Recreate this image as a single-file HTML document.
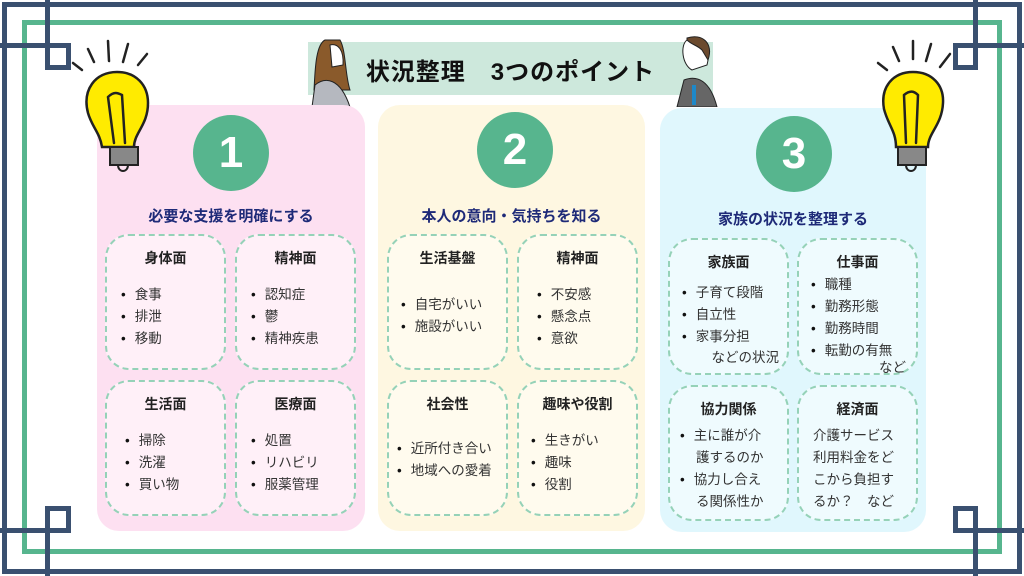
<!DOCTYPE html>
<html><head><meta charset="utf-8"><style>
*{margin:0;padding:0;box-sizing:border-box}
body{width:1024px;height:576px;background:#fff;position:relative;overflow:hidden;font-family:"Liberation Sans","Noto Sans CJK JP",sans-serif;color:#222}
.a{position:absolute}
.panel{position:absolute;top:105px;height:426px;border-radius:22px}
.circ{position:absolute;width:76px;height:76px;border-radius:50%;background:#57b58e;color:#fff;font-size:44px;font-weight:bold;text-align:center;line-height:76px}
.ttl{position:absolute;font-size:15px;font-weight:bold;color:#1e2a78;text-align:center;white-space:nowrap}
.box{position:absolute;border:2.5px dashed #95d2b8;border-radius:24px;font-size:13.5px;color:#333}
.box h4{text-align:center;font-size:14px;font-weight:bold;color:#222;margin-top:12px}
.box ul{list-style:none;margin-left:14px}
.box li{line-height:22px;white-space:nowrap}
.box li:before{content:"•";margin-right:9px;color:#111}
.box li.c:before{content:none}
.nb li:before{content:none}
</style></head><body>
<div class="a" style="left:2px;top:2px;width:1020px;height:572px;border:5px solid #3a5070"></div>
<div class="a" style="left:22px;top:20px;width:980px;height:534px;border:5px solid #57b58e"></div>
<div class="a" style="left:45px;top:0;width:5px;height:70px;background:#3a5070"></div>
<div class="a" style="left:0;top:43px;width:70px;height:5px;background:#3a5070"></div>
<div class="a" style="left:45px;top:43px;width:26px;height:27px;border:5px solid #3a5070"></div>
<div class="a" style="left:973px;top:0;width:5px;height:70px;background:#3a5070"></div>
<div class="a" style="left:954px;top:43px;width:70px;height:5px;background:#3a5070"></div>
<div class="a" style="left:953px;top:43px;width:25px;height:27px;border:5px solid #3a5070"></div>
<div class="a" style="left:45px;top:506px;width:5px;height:70px;background:#3a5070"></div>
<div class="a" style="left:0;top:528px;width:70px;height:5px;background:#3a5070"></div>
<div class="a" style="left:45px;top:506px;width:26px;height:27px;border:5px solid #3a5070"></div>
<div class="a" style="left:973px;top:506px;width:5px;height:70px;background:#3a5070"></div>
<div class="a" style="left:954px;top:528px;width:70px;height:5px;background:#3a5070"></div>
<div class="a" style="left:953px;top:506px;width:25px;height:27px;border:5px solid #3a5070"></div>
<!-- title banner -->
<div class="a" style="left:308px;top:42px;width:405px;height:53px;background:#cde8dc"></div>
<div class="a" style="left:308px;top:52px;width:405px;text-align:center;font-size:24px;font-weight:bold;color:#111;letter-spacing:1px">状況整理　3つのポイント</div>
<svg class="a" style="left:310px;top:35px" width="45" height="72"><path d="M15 5 C5 10 5 40 4 55 L40 55 C35 40 36 15 30 5Z" fill="#8a5a2b" stroke="#222"/><path d="M20 10 C28 8 34 15 33 30 L22 32Z" fill="#fff" stroke="#222"/><path d="M2 72 L5 50 C15 42 30 42 40 72Z" fill="#b5b8bf" stroke="#222"/></svg>
<svg class="a" style="left:672px;top:35px" width="50" height="72"><path d="M15 5 C30 0 40 10 35 30 L20 35 C10 30 8 10 15 5Z" fill="#fff" stroke="#222"/><path d="M15 3 C30 -2 42 8 36 25 L30 15 C25 10 20 10 15 5Z" fill="#6b4a2e" stroke="#222"/><path d="M5 72 L12 45 C25 40 38 45 45 72Z" fill="#666" stroke="#222"/><rect x="20" y="50" width="4" height="20" fill="#1e88c8"/></svg>
<!-- panels -->
<div class="panel" style="left:97px;width:268px;background:#fde0f1"></div>
<div class="panel" style="left:378px;width:267px;background:#fef7e1"></div>
<div class="panel" style="left:660px;width:266px;top:108px;height:424px;background:#e0f7fd"></div>
<!-- bulbs (above panels) -->
<svg class="a" style="left:70px;top:35px" width="90" height="140" viewBox="0 0 90 140">
<g stroke="#222" stroke-width="2.5" fill="none" stroke-linecap="round"><line x1="3" y1="28" x2="12" y2="35"/><line x1="18" y1="14" x2="24" y2="27"/><line x1="38" y1="6" x2="39" y2="26"/><line x1="58" y1="9" x2="53" y2="27"/><line x1="77" y1="19" x2="68" y2="30"/></g>
<path d="M47 37 C25 37 12 55 18 78 C22 92 30 98 32 112 L64 112 C64 98 78 90 78 68 C78 50 66 37 47 37Z" fill="#ffeb00" stroke="#222" stroke-width="2.5"/>
<rect x="40" y="112" width="28" height="18" fill="#888" stroke="#222" stroke-width="2"/>
<path d="M48 130 C48 138 58 138 58 130" stroke="#222" stroke-width="2" fill="none"/>
<g stroke="#222" stroke-width="2.5" fill="none" stroke-linecap="round"><path d="M38 62 L44 108 M52 60 L55 108 M38 62 C44 56 48 58 52 60"/></g>
</svg>
<svg class="a" style="left:868px;top:35px" width="90" height="140" viewBox="0 0 90 140">
<g stroke="#222" stroke-width="2.5" fill="none" stroke-linecap="round"><line x1="10" y1="28" x2="19" y2="35"/><line x1="25" y1="12" x2="31" y2="26"/><line x1="45" y1="6" x2="45" y2="24"/><line x1="63" y1="9" x2="58" y2="26"/><line x1="82" y1="19" x2="72" y2="32"/></g>
<path d="M45 37 C25 37 12 52 16 74 C20 90 28 96 28 112 L60 112 C60 98 74 90 75 68 C76 50 64 37 45 37Z" fill="#ffeb00" stroke="#222" stroke-width="2.5"/>
<rect x="30" y="112" width="28" height="18" fill="#888" stroke="#222" stroke-width="2"/>
<path d="M38 130 C38 138 48 138 48 130" stroke="#222" stroke-width="2" fill="none"/>
<g stroke="#222" stroke-width="2.5" fill="none" stroke-linecap="round"><path d="M36 60 L38 108 M50 60 L48 108 M36 60 C42 55 46 56 50 60"/></g>
</svg>
<div class="circ" style="left:193px;top:115px">1</div>
<div class="circ" style="left:477px;top:112px">2</div>
<div class="circ" style="left:756px;top:116px">3</div>
<div class="ttl" style="left:97px;width:268px;top:205px">必要な支援を明確にする</div>
<div class="ttl" style="left:378px;width:267px;top:205px">本人の意向・気持ちを知る</div>
<div class="ttl" style="left:660px;width:266px;top:208px">家族の状況を整理する</div>
<div class="box" style="left:105px;top:234px;width:121px;height:136px;background:#fff0f8"><h4>身体面</h4><ul style="margin-top:16px"><li>食事</li><li>排泄</li><li>移動</li></ul></div>
<div class="box" style="left:235px;top:234px;width:121px;height:136px;background:#fff0f8"><h4>精神面</h4><ul style="margin-top:16px"><li>認知症</li><li>鬱</li><li>精神疾患</li></ul></div>
<div class="box" style="left:105px;top:380px;width:121px;height:136px;background:#fff0f8"><h4>生活面</h4><ul style="margin-top:16px;margin-left:18px"><li>掃除</li><li>洗濯</li><li>買い物</li></ul></div>
<div class="box" style="left:235px;top:380px;width:121px;height:136px;background:#fff0f8"><h4>医療面</h4><ul style="margin-top:16px"><li>処置</li><li>リハビリ</li><li>服薬管理</li></ul></div>
<div class="box" style="left:387px;top:234px;width:121px;height:136px;background:#fffbee"><h4>生活基盤</h4><ul style="margin-top:26px;margin-left:12px"><li>自宅がいい</li><li>施設がいい</li></ul></div>
<div class="box" style="left:517px;top:234px;width:121px;height:136px;background:#fffbee"><h4>精神面</h4><ul style="margin-top:16px;margin-left:18px"><li>不安感</li><li>懸念点</li><li>意欲</li></ul></div>
<div class="box" style="left:387px;top:380px;width:121px;height:136px;background:#fffbee"><h4>社会性</h4><ul style="margin-top:24px;margin-left:8px"><li>近所付き合い</li><li>地域への愛着</li></ul></div>
<div class="box" style="left:517px;top:380px;width:121px;height:136px;background:#fffbee"><h4>趣味や役割</h4><ul style="margin-top:16px;margin-left:12px"><li>生きがい</li><li>趣味</li><li>役割</li></ul></div>
<div class="box" style="left:668px;top:238px;width:121px;height:137px;background:#effbfe"><h4>家族面</h4><ul style="margin-top:10px;margin-left:12px"><li>子育て段階</li><li>自立性</li><li>家事分担</li></ul><div style="position:absolute;right:8px;top:106px">などの状況</div></div>
<div class="box" style="left:797px;top:238px;width:121px;height:137px;background:#effbfe"><h4>仕事面</h4><ul style="margin-top:2px;margin-left:12px"><li>職種</li><li>勤務形態</li><li>勤務時間</li><li>転勤の有無</li></ul><div style="position:absolute;right:10px;top:116px">など</div></div>
<div class="box" style="left:668px;top:385px;width:121px;height:136px;background:#effbfe"><h4>協力関係</h4><ul style="margin-top:6px;margin-left:10px"><li>主に誰が介</li><li class="c" style="padding-left:16px">護するのか</li><li>協力し合え</li><li class="c" style="padding-left:16px">る関係性か</li></ul></div>
<div class="box nb" style="left:797px;top:385px;width:121px;height:136px;background:#effbfe"><h4>経済面</h4><ul style="margin-top:6px;margin-left:14px"><li>介護サービス</li><li>利用料金をど</li><li>こから負担す</li><li>るか？　など</li></ul></div>
</body></html>
